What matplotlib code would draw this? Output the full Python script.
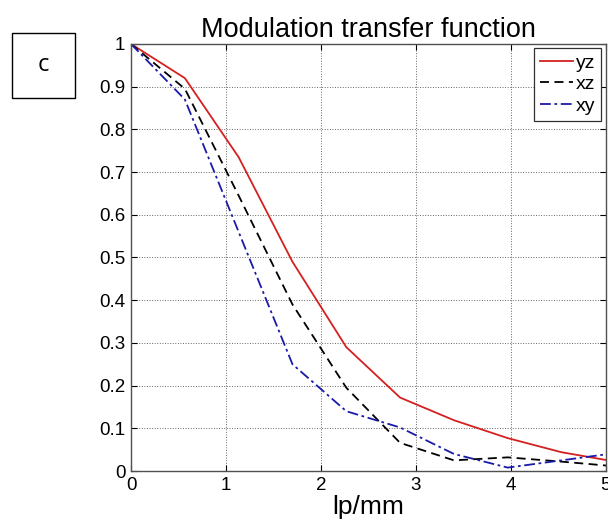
import matplotlib.pyplot as plt
from matplotlib.patches import Rectangle

# spatial frequency samples (lp/mm)
freq = [0, 0.567, 1.133, 1.7, 2.267, 2.833, 3.4, 3.967, 4.533, 5.1]

# MTF curves
mtf_yz = [1.0, 0.92, 0.735, 0.49, 0.29, 0.172, 0.119, 0.077, 0.044, 0.022]
mtf_xz = [1.0, 0.895, 0.645, 0.39, 0.195, 0.066, 0.025, 0.032, 0.022, 0.011]
mtf_xy = [1.0, 0.87, 0.56, 0.25, 0.14, 0.102, 0.04, 0.008, 0.025, 0.042]

xticks = [0, 1, 2, 3, 4, 5]
yticks = [0, 0.1, 0.2, 0.3, 0.4, 0.5, 0.6, 0.7, 0.8, 0.9, 1]
ytick_labels = ['0', '0.1', '0.2', '0.3', '0.4', '0.5', '0.6', '0.7', '0.8', '0.9', '1']

plt.rcParams['font.family'] = ['Liberation Sans', 'DejaVu Sans']

fig = plt.figure(figsize=(6.08, 5.24), dpi=100)
ax = fig.add_axes([0.2155, 0.1011, 0.781, 0.815])

ax.plot(freq, mtf_yz, color='#d42020', linestyle='-', linewidth=1.3, label='yz')
ax.plot(freq, mtf_xz, color='black', linestyle=(0, (5, 3)), linewidth=1.3, label='xz')
ax.plot(freq, mtf_xy, color='#1a1aa8', linestyle=(0, (6, 2, 1.5, 2)), linewidth=1.3, label='xy')

ax.set_xlim(0, 5)
ax.set_ylim(0, 1)
ax.set_xticks(xticks)
ax.set_yticks(yticks)
ax.set_yticklabels(ytick_labels)
ax.tick_params(direction='in', top=True, right=True, labelsize=13.5, length=4,
               width=0.8, pad=4)
ax.grid(True, linestyle=':', color='black', linewidth=0.7, alpha=0.6)
for s in ax.spines.values():
    s.set_color('#505050')
    s.set_linewidth(1.0)

ax.set_title('Modulation transfer function', fontsize=19.5, pad=5)
ax.set_xlabel('lp/mm', fontsize=19, labelpad=1)

leg = ax.legend(loc='upper right', bbox_to_anchor=(0.99, 0.99), fontsize=14,
                handlelength=1.7, handletextpad=0.15, borderpad=0.3,
                labelspacing=0.2, borderaxespad=0, fancybox=False,
                framealpha=1, edgecolor='#303030')
leg.get_frame().set_linewidth(0.9)

# panel label box
fig.patches.append(Rectangle((12 / 608, 1 - 98 / 524), 63 / 608, 65 / 524,
                             transform=fig.transFigure, fill=False,
                             edgecolor='black', linewidth=1))
fig.text(43.5 / 608, 1 - 65 / 524, 'c', fontsize=17, ha='center', va='center',
         family=['Open Sans', 'DejaVu Sans'])

plt.savefig('out.png', dpi=100)
